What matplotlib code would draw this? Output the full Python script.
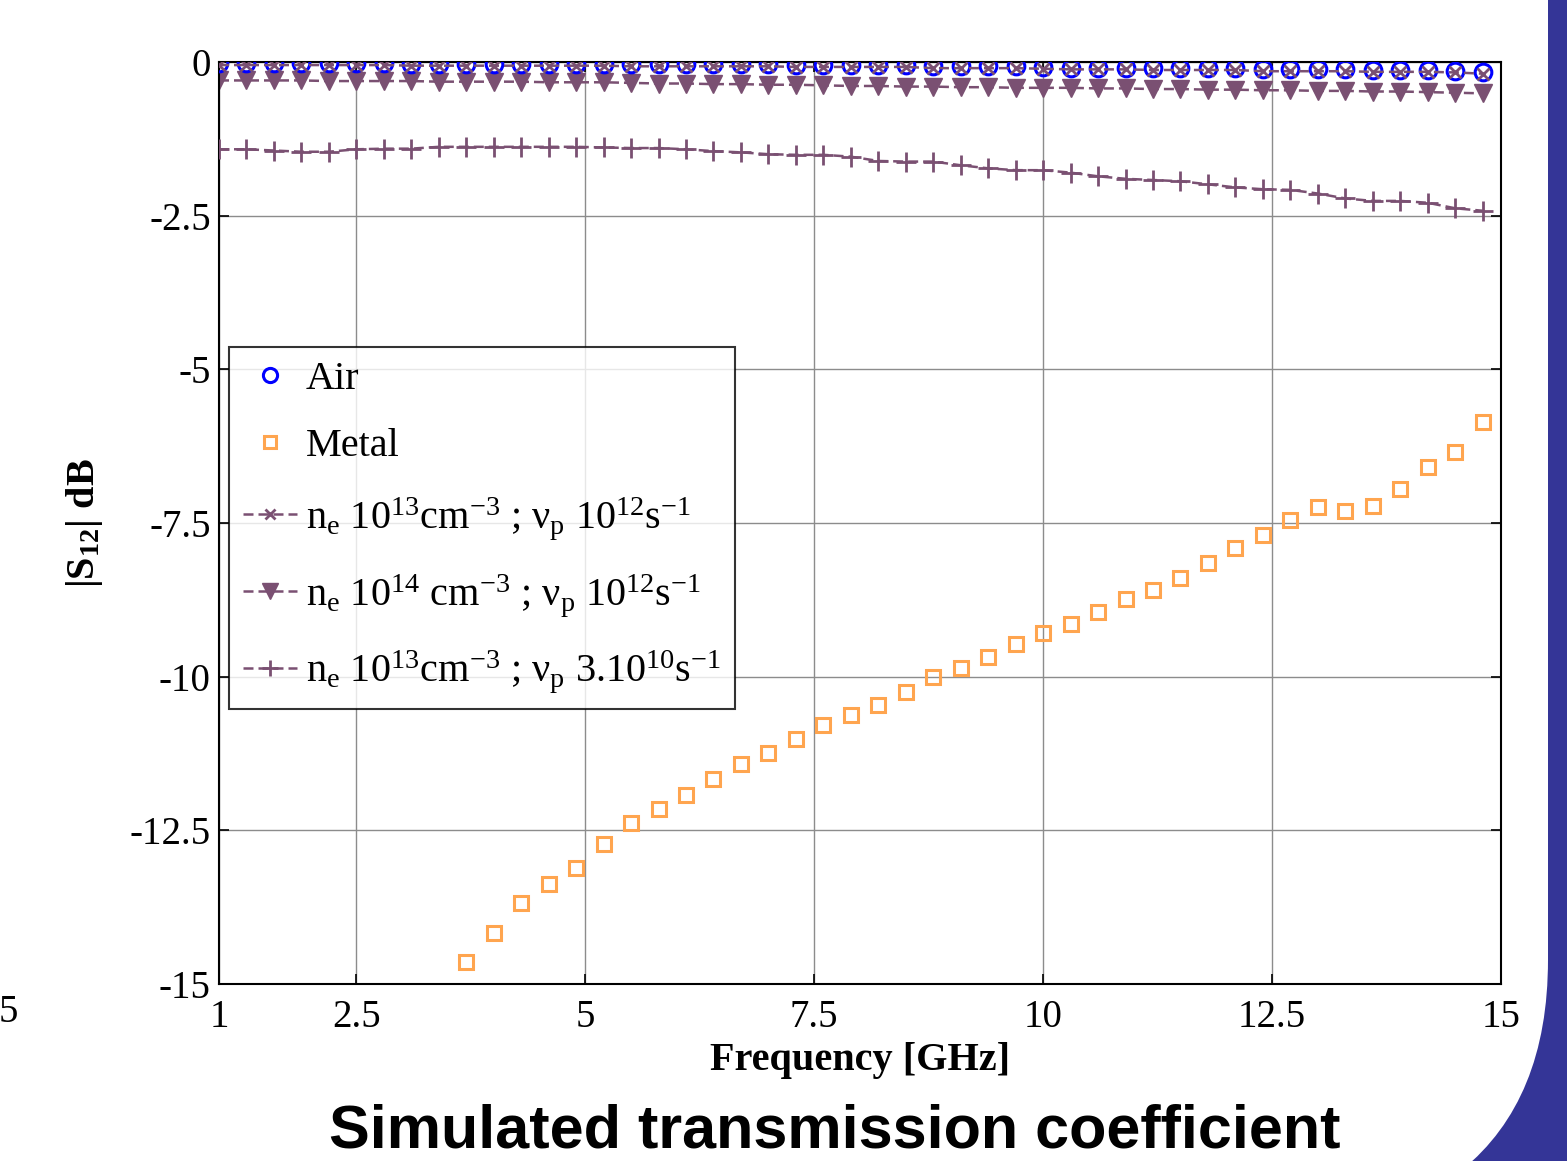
import matplotlib
matplotlib.use("Agg")
import matplotlib.pyplot as plt
from matplotlib.patches import PathPatch
from matplotlib.path import Path

plt.rcParams['font.family'] = ['Liberation Serif', 'DejaVu Sans']
plt.rcParams['mathtext.fontset'] = 'custom'
plt.rcParams['mathtext.rm'] = 'Liberation Serif'
plt.rcParams['mathtext.it'] = 'Liberation Serif:italic'
plt.rcParams['mathtext.bf'] = 'Liberation Serif:bold'

# ---------------- data ----------------
freq = [1.0, 1.3, 1.6, 1.9, 2.2, 2.5, 2.8, 3.1, 3.4, 3.7, 4.0, 4.3, 4.6, 4.9,
        5.2, 5.5, 5.8, 6.1, 6.4, 6.7, 7.0, 7.3, 7.6, 7.9, 8.2, 8.5, 8.8, 9.1,
        9.4, 9.7, 10.0, 10.3, 10.6, 10.9, 11.2, 11.5, 11.8, 12.1, 12.4, 12.7,
        13.0, 13.3, 13.6, 13.9, 14.2, 14.5, 14.8]

air = [-0.02, -0.02, -0.02, -0.02, -0.02, -0.02, -0.02, -0.03, -0.03, -0.03,
       -0.03, -0.03, -0.03, -0.03, -0.03, -0.04, -0.04, -0.04, -0.04, -0.04,
       -0.04, -0.05, -0.05, -0.05, -0.05, -0.05, -0.07, -0.07, -0.07, -0.07,
       -0.08, -0.09, -0.09, -0.09, -0.10, -0.10, -0.10, -0.10, -0.12, -0.12,
       -0.12, -0.12, -0.13, -0.13, -0.13, -0.14, -0.16]

metal_freq = [3.7, 4.0, 4.3, 4.6, 4.9, 5.2, 5.5, 5.8, 6.1, 6.4, 6.7, 7.0, 7.3,
              7.6, 7.9, 8.2, 8.5, 8.8, 9.1, 9.4, 9.7, 10.0, 10.3, 10.6, 10.9,
              11.2, 11.5, 11.8, 12.1, 12.4, 12.7, 13.0, 13.3, 13.6, 13.9, 14.2,
              14.5, 14.8]
metal = [-14.64, -14.17, -13.68, -13.37, -13.11, -12.72, -12.38, -12.15, -11.92,
         -11.66, -11.42, -11.24, -11.01, -10.79, -10.62, -10.46, -10.25, -10.00,
         -9.86, -9.68, -9.47, -9.29, -9.14, -8.95, -8.74, -8.59, -8.39, -8.15,
         -7.91, -7.70, -7.45, -7.24, -7.30, -7.22, -6.95, -6.59, -6.34, -5.86]

ne13_nu12 = [-0.05, -0.05, -0.05, -0.05, -0.05, -0.05, -0.05, -0.06, -0.06, -0.06,
             -0.06, -0.06, -0.06, -0.06, -0.06, -0.07, -0.07, -0.07, -0.07, -0.07,
             -0.07, -0.08, -0.08, -0.08, -0.08, -0.08, -0.10, -0.10, -0.10, -0.10,
             -0.11, -0.12, -0.12, -0.12, -0.13, -0.13, -0.13, -0.13, -0.15, -0.15,
             -0.15, -0.15, -0.16, -0.16, -0.16, -0.17, -0.19]

ne14_nu12 = [-0.30, -0.30, -0.30, -0.30, -0.31, -0.31, -0.31, -0.31, -0.32, -0.32,
             -0.32, -0.32, -0.33, -0.33, -0.33, -0.34, -0.35, -0.35, -0.36, -0.36,
             -0.37, -0.37, -0.38, -0.39, -0.39, -0.40, -0.40, -0.41, -0.41, -0.42,
             -0.42, -0.42, -0.43, -0.43, -0.44, -0.44, -0.45, -0.45, -0.46, -0.46,
             -0.47, -0.47, -0.48, -0.48, -0.49, -0.50, -0.51]

ne13_nu3e10 = [-1.42, -1.42, -1.44, -1.46, -1.46, -1.42, -1.41, -1.41, -1.38, -1.38,
               -1.38, -1.38, -1.38, -1.38, -1.39, -1.40, -1.40, -1.42, -1.45, -1.47,
               -1.50, -1.51, -1.51, -1.54, -1.61, -1.62, -1.62, -1.68, -1.73, -1.76,
               -1.76, -1.80, -1.86, -1.90, -1.92, -1.94, -1.99, -2.04, -2.07, -2.08,
               -2.14, -2.22, -2.26, -2.26, -2.29, -2.38, -2.42]

xticks = [1, 2.5, 5, 7.5, 10, 12.5, 15]
xticklabels = ['1', '2.5', '5', '7.5', '10', '12.5', '15']
yticks = [0, -2.5, -5, -7.5, -10, -12.5, -15]
yticklabels = ['0', '-2.5', '-5', '-7.5', '-10', '-12.5', '-15']

labels = [
    'Air',
    'Metal',
    r'n$_\mathregular{e}$ 10$^\mathregular{13}$cm$^\mathregular{-3}$ ; ν$_\mathregular{p}$ 10$^\mathregular{12}$s$^\mathregular{-1}$',
    r'n$_\mathregular{e}$ 10$^\mathregular{14}$ cm$^\mathregular{-3}$ ; ν$_\mathregular{p}$ 10$^\mathregular{12}$s$^\mathregular{-1}$',
    r'n$_\mathregular{e}$ 10$^\mathregular{13}$cm$^\mathregular{-3}$ ; ν$_\mathregular{p}$ 3.10$^\mathregular{10}$s$^\mathregular{-1}$',
]

# ---------------- figure ----------------
W, H = 1567, 1161
fig = plt.figure(figsize=(W / 100, H / 100), dpi=100)
fig.patch.set_facecolor('white')
ax = fig.add_axes([219 / W, 1 - 984 / H, (1501 - 219) / W, (984 - 62) / H])

purple = '#7a5072'
dash = (4, 2)

ax.plot(freq, air, linestyle='none', marker='o', ms=12, mfc='none',
        mec='#0000ff', mew=2.2, label=labels[0], zorder=3)
ax.plot(metal_freq, metal, linestyle='none', marker='s', ms=9.5, mfc='none',
        mec='#ffa54f', mew=2.2, label=labels[1], zorder=3)
ax.plot(freq, ne13_nu12, linestyle='--', dashes=dash, color=purple, lw=1.8,
        marker='x', ms=9, mew=2, label=labels[2], zorder=4)
ax.plot(freq, ne14_nu12, linestyle='--', dashes=dash, color=purple, lw=1.8,
        marker='v', ms=13.5, label=labels[3], zorder=2)
ax.plot(freq, ne13_nu3e10, linestyle='--', dashes=dash, color=purple, lw=1.8,
        marker='+', ms=14, mew=2, label=labels[4], zorder=3)

ax.set_xlim(1, 15)
ax.set_ylim(-15, 0)
ax.set_xticks(xticks)
ax.set_xticklabels(xticklabels)
ax.set_yticks(yticks)
ax.set_yticklabels(yticklabels)
ax.tick_params(direction='in', length=7, width=1.2, top=True, right=True,
               labelsize=28, pad=6, colors='black')
ax.tick_params(axis='x', pad=11)
ax.grid(True, color='#8c8c8c', linewidth=1.0)
ax.set_axisbelow(True)
for s in ax.spines.values():
    s.set_linewidth(1.5)
    s.set_color('black')

ax.set_xlabel('Frequency [GHz]', fontsize=29, fontweight='bold', labelpad=4)
ax.set_ylabel(r'|S$_\mathbf{12}$| dB', fontsize=29, fontweight='bold', labelpad=18)

leg = ax.legend(loc='upper left', bbox_to_anchor=(0.0078, 0.691),
                borderaxespad=0, fontsize=29, frameon=True, fancybox=False,
                edgecolor='black', handlelength=1.35, handletextpad=0.2,
                labelspacing=0.74, borderpad=0.35, markerscale=0.85)
leg.get_frame().set_linewidth(1.5)

# slide decoration on the right
verts = [(1548, -5), (1548, 960), (1548, 1100), (1462, 1170), (1575, 1170), (1575, -5), (1548, -5)]
codes = [Path.MOVETO, Path.LINETO, Path.CURVE3, Path.CURVE3, Path.LINETO, Path.LINETO, Path.CLOSEPOLY]
verts_f = [(x / W, 1 - y / H) for x, y in verts]
fig.add_artist(PathPatch(Path(verts_f, codes), transform=fig.transFigure,
                         facecolor='#343597', edgecolor='none'))

# stray label at far left and slide title
fig.text(-0.001, 1 - 1013 / H, '5', fontsize=28, ha='left', va='center')
fig.text(835 / W, 1 - 1147 / H, 'Simulated transmission coefficient',
         fontsize=44, fontweight='bold', family='Liberation Sans',
         ha='center', va='baseline')

fig.savefig('out.png', dpi=100)
